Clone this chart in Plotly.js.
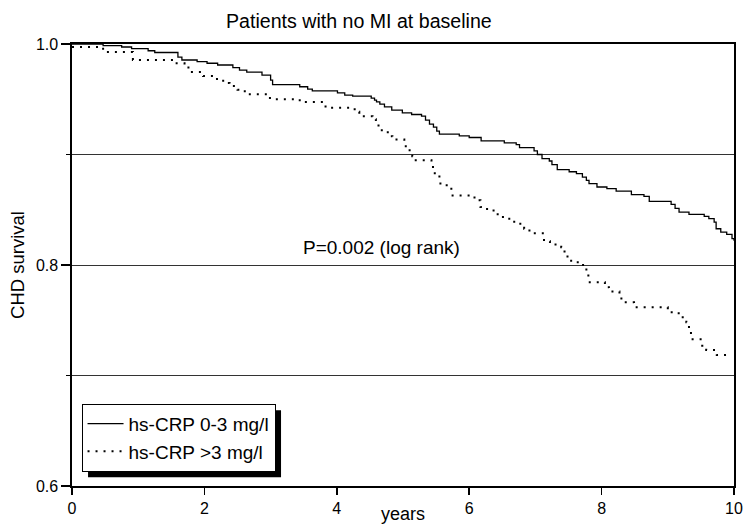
<!DOCTYPE html>
<html>
<head>
<meta charset="utf-8">
<script src="https://cdn.plot.ly/plotly-3.0.1.min.js"></script>
<style>
html,body{margin:0;padding:0;background:#fff;}
#chart{width:743px;height:524px;}
</style>
</head>
<body>
<div id="chart"></div>
<script>
// ---- data ----
const seriesNames = ["hs-CRP 0-3 mg/l", "hs-CRP >3 mg/l"];

const lowCrpYears = [0, 0.47, 0.75, 0.90, 1.15, 1.25, 1.60, 1.66, 1.89, 2.04, 2.20, 2.43, 2.53, 2.64, 2.87, 3.00, 3.03, 3.44, 3.56, 3.63, 4.01, 4.12, 4.24, 4.52, 4.57, 4.60, 4.65, 4.72, 4.83, 4.99, 5.13, 5.28, 5.34, 5.40, 5.46, 5.51, 5.55, 5.85, 6.00, 6.18, 6.53, 6.71, 6.76, 6.98, 7.03, 7.10, 7.21, 7.25, 7.33, 7.51, 7.62, 7.71, 7.77, 7.81, 7.93, 8.08, 8.22, 8.45, 8.64, 8.72, 9.05, 9.11, 9.17, 9.32, 9.55, 9.62, 9.70, 9.73, 9.80, 9.89, 9.97, 10.0];
const lowCrpSurvival = [1.0, 0.9986, 0.9973, 0.9959, 0.9939, 0.9923, 0.9882, 0.9855, 0.9841, 0.9826, 0.9810, 0.9787, 0.9764, 0.9746, 0.9719, 0.9673, 0.9633, 0.9613, 0.9592, 0.9576, 0.9558, 0.9537, 0.9528, 0.9510, 0.9492, 0.9477, 0.9456, 0.9431, 0.9401, 0.9377, 0.9362, 0.9347, 0.9311, 0.9274, 0.9247, 0.9211, 0.9184, 0.9168, 0.9154, 0.9123, 0.9105, 0.9090, 0.9063, 0.9032, 0.9000, 0.8963, 0.8941, 0.8909, 0.8863, 0.8844, 0.8827, 0.8796, 0.8766, 0.8737, 0.8706, 0.8691, 0.8669, 0.8637, 0.8621, 0.8576, 0.8549, 0.8512, 0.8479, 0.8458, 0.8440, 0.8419, 0.8388, 0.8328, 0.8297, 0.8277, 0.8238, 0.822];

const highCrpYears = [0, 0.47, 0.92, 1.54, 1.70, 1.78, 1.98, 2.19, 2.31, 2.38, 2.50, 2.61, 2.99, 3.44, 3.83, 4.27, 4.34, 4.54, 4.59, 4.63, 4.77, 4.84, 5.02, 5.10, 5.14, 5.17, 5.43, 5.48, 5.55, 5.66, 5.73, 6.08, 6.17, 6.27, 6.43, 6.56, 6.68, 6.83, 6.91, 7.13, 7.22, 7.39, 7.44, 7.54, 7.72, 7.77, 7.80, 8.05, 8.11, 8.27, 8.34, 8.49, 9.00, 9.14, 9.20, 9.28, 9.32, 9.35, 9.52, 9.58, 9.74, 9.88];
const highCrpSurvival = [0.9973, 0.9927, 0.9855, 0.9825, 0.9787, 0.9746, 0.9710, 0.9667, 0.9646, 0.9619, 0.9587, 0.9546, 0.9501, 0.9474, 0.9422, 0.9386, 0.9347, 0.9320, 0.9274, 0.9220, 0.9166, 0.9136, 0.9075, 0.9023, 0.8984, 0.8948, 0.8887, 0.8812, 0.8737, 0.8691, 0.8630, 0.8585, 0.8524, 0.8494, 0.8434, 0.8419, 0.8374, 0.8328, 0.8288, 0.8216, 0.8186, 0.8161, 0.8077, 0.8025, 0.7980, 0.7923, 0.7844, 0.7799, 0.7760, 0.7696, 0.7663, 0.7617, 0.7572, 0.7563, 0.7527, 0.7481, 0.7406, 0.7327, 0.7270, 0.7231, 0.7186, 0.7186];

const xTickVals = [0, 2, 4, 6, 8, 10];
const yTickVals = [0.6, 0.8, 1.0];
const yTickText = ["0.6", "0.8", "1.0"];
const annotationText = "P=0.002 (log rank)";
const annotationPos = [4.67, 0.816];

// ---- chart ----
const FONT = "'Liberation Sans', Arial, Helvetica, sans-serif";
const SHADOW_OFFSET = 6;

const traces = [
  {
    x: lowCrpYears, y: lowCrpSurvival, name: seriesNames[0],
    type: "scatter", mode: "lines",
    line: {shape: "hv", color: "#000", width: 1.3}
  },
  {
    x: highCrpYears, y: highCrpSurvival, name: seriesNames[1],
    type: "scatter", mode: "lines",
    line: {shape: "hv", color: "#000", width: 2, dash: "2px,6px"}
  }
];

const layout = {
  width: 743, height: 524,
  margin: {l: 72, r: 9, t: 44, b: 38, pad: 0},
  paper_bgcolor: "#fff", plot_bgcolor: "#fff",
  font: {family: FONT, color: "#000", size: 16},
  showlegend: true,
  title: {
    text: "Patients with no MI at baseline",
    font: {family: FONT, size: 19.6, color: "#000"},
    x: 0.483, xref: "container", xanchor: "center",
    y: 0.96, yref: "container", yanchor: "middle"
  },
  xaxis: {
    range: [0, 10],
    tickvals: xTickVals,
    ticks: "outside", ticklen: 7, tickwidth: 1.5, tickcolor: "#000",
    showline: true, linecolor: "#000", linewidth: 1.6, mirror: true,
    showgrid: false, zeroline: false,
    tickfont: {size: 16, color: "#000", family: FONT},
    title: {text: "years", font: {size: 18, color: "#000", family: FONT}}
  },
  yaxis: {
    range: [0.6, 1.0],
    tickvals: yTickVals, ticktext: yTickText,
    ticks: "outside", ticklen: 9, tickwidth: 1.5, tickcolor: "#000",
    showline: true, linecolor: "#000", linewidth: 1.6, mirror: true,
    showgrid: true, gridcolor: "#333", gridwidth: 1,
    zeroline: false,
    minor: {dtick: 0.1, tick0: 0.6, ticks: "outside", ticklen: 4, tickcolor: "#000", showgrid: true, gridcolor: "#333", gridwidth: 1},
    tickfont: {size: 16, color: "#000", family: FONT},
    title: {text: "CHD survival", font: {size: 18.5, color: "#000", family: FONT}, standoff: 6}
  },
  legend: {
    x: 0.0144, y: 0.186, xanchor: "left", yanchor: "top",
    xref: "paper", yref: "paper",
    bgcolor: "#fff", bordercolor: "#000", borderwidth: 1,
    font: {size: 19, color: "#000", family: FONT},
    tracegroupgap: 0, itemwidth: 36
  },
  shapes: [],
  annotations: [
    {x: annotationPos[0], y: annotationPos[1], xref: "x", yref: "y",
     text: annotationText, showarrow: false, xanchor: "center", yanchor: "middle",
     font: {size: 19, color: "#000", family: FONT}}
  ]
};

Plotly.newPlot("chart", traces, layout, {displayModeBar: false, staticPlot: true}).then(function (gd) {
  // drop shadow behind the legend box, sized from the drawn legend
  const bg = gd.querySelector(".legend .bg");
  if (!bg) return;
  const r = bg.getBoundingClientRect();
  const g = gd.getBoundingClientRect();
  const s = gd._fullLayout._size;
  const left = r.left - g.left + SHADOW_OFFSET, right = r.right - g.left + SHADOW_OFFSET;
  const top = r.top - g.top + SHADOW_OFFSET, bottom = r.bottom - g.top + SHADOW_OFFSET;
  return Plotly.relayout(gd, {
    shapes: [{
      type: "rect", xref: "paper", yref: "paper", layer: "above",
      x0: (left - s.l) / s.w, x1: (right - s.l) / s.w,
      y0: 1 - (bottom - s.t) / s.h, y1: 1 - (top - s.t) / s.h,
      fillcolor: "#000", line: {width: 0}
    }]
  });
});
</script>
</body>
</html>
